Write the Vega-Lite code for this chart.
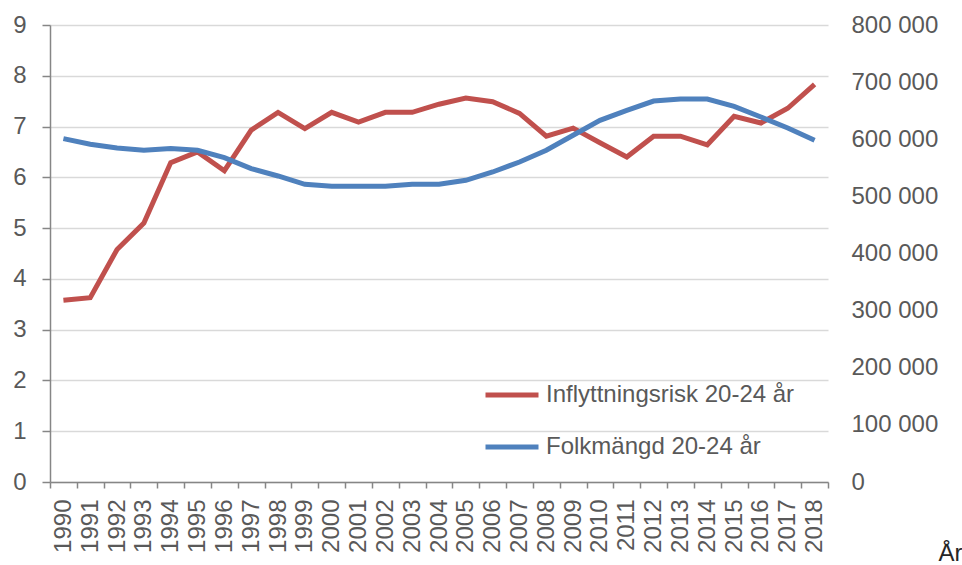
{
  "$schema": "https://vega.github.io/schema/vega-lite/v6.json",
  "width": 778,
  "height": 457,
  "autosize": {"type": "none"},
  "padding": {"left": 50, "top": 25, "right": 134, "bottom": 83},
  "background": "white",
  "config": {
    "view": {"stroke": null},
    "font": "Liberation Sans",
    "locale": {"number": {"decimal": ",", "thousands": " ", "grouping": [3], "currency": ["", " kr"]}}
  },
  "data": {
    "values": [
      {"year": "1990", "risk": 3.58, "folk": 601100},
      {"year": "1991", "risk": 3.63, "folk": 591200},
      {"year": "1992", "risk": 4.58, "folk": 584700},
      {"year": "1993", "risk": 5.10, "folk": 580700},
      {"year": "1994", "risk": 6.29, "folk": 583600},
      {"year": "1995", "risk": 6.50, "folk": 580700},
      {"year": "1996", "risk": 6.13, "folk": 567900},
      {"year": "1997", "risk": 6.93, "folk": 548700},
      {"year": "1998", "risk": 7.28, "folk": 535700},
      {"year": "1999", "risk": 6.96, "folk": 521200},
      {"year": "2000", "risk": 7.28, "folk": 517700},
      {"year": "2001", "risk": 7.09, "folk": 517700},
      {"year": "2002", "risk": 7.28, "folk": 517700},
      {"year": "2003", "risk": 7.28, "folk": 521200},
      {"year": "2004", "risk": 7.44, "folk": 521200},
      {"year": "2005", "risk": 7.56, "folk": 528200},
      {"year": "2006", "risk": 7.49, "folk": 542700},
      {"year": "2007", "risk": 7.26, "folk": 560200},
      {"year": "2008", "risk": 6.81, "folk": 580700},
      {"year": "2009", "risk": 6.97, "folk": 606900},
      {"year": "2010", "risk": 6.68, "folk": 633100},
      {"year": "2011", "risk": 6.40, "folk": 650600},
      {"year": "2012", "risk": 6.81, "folk": 666900},
      {"year": "2013", "risk": 6.81, "folk": 670400},
      {"year": "2014", "risk": 6.64, "folk": 670400},
      {"year": "2015", "risk": 7.20, "folk": 657600},
      {"year": "2016", "risk": 7.07, "folk": 638900},
      {"year": "2017", "risk": 7.36, "folk": 619700},
      {"year": "2018", "risk": 7.83, "folk": 598200}
    ]
  },
  "encoding": {
    "x": {
      "field": "year",
      "type": "ordinal",
      "bandPosition": 0.5,
      "scale": {"type": "band", "paddingInner": 0, "paddingOuter": 0},
      "axis": {
        "title": "År",
        "titleX": 900,
        "titleY": 78,
        "titleAlign": "center",
        "titleBaseline": "alphabetic",
        "titleFontSize": 24,
        "titleFontWeight": "normal",
        "titleColor": "#262626",
        "labelAngle": 270,
        "labelAlign": "right",
        "labelBaseline": "middle",
        "labelFontSize": 24,
        "labelColor": "#595959",
        "labelPadding": 11,
        "labelOverlap": false,
        "tickBand": "extent",
        "tickSize": 6,
        "tickColor": "#868686",
        "tickWidth": 1.5,
        "domainColor": "#868686",
        "domainWidth": 1.5,
        "grid": false
      }
    }
  },
  "layer": [
    {
      "mark": {"type": "line", "strokeWidth": 5},
      "encoding": {
        "y": {
          "field": "risk",
          "type": "quantitative",
          "scale": {"domain": [0, 9], "nice": false},
          "axis": {
            "title": null,
            "orient": "left",
            "values": [0, 1, 2, 3, 4, 5, 6, 7, 8, 9],
            "labelFontSize": 24,
            "labelColor": "#595959",
            "labelPadding": 16,
            "tickSize": 8,
            "tickColor": "#868686",
            "tickWidth": 1.5,
            "domainColor": "#868686",
            "domainWidth": 1.5,
            "grid": true,
            "gridColor": "#D9D9D9",
            "gridWidth": 1.5
          }
        },
        "color": {
          "datum": "Inflyttningsrisk 20-24 år",
          "type": "nominal",
          "scale": {
            "domain": ["Inflyttningsrisk 20-24 år", "Folkmängd 20-24 år"],
            "range": ["#C0504D", "#4F81BD"]
          },
          "legend": {
            "title": null,
            "orient": "none",
            "legendX": 433,
            "legendY": 341,
            "symbolType": "stroke",
            "symbolSize": 2809,
            "symbolStrokeWidth": 5,
            "labelFontSize": 24,
            "labelColor": "#595959",
            "labelOffset": 5,
            "labelLimit": 0,
            "rowPadding": 11,
            "labelFont": "Liberation Sans"
          }
        }
      }
    },
    {
      "mark": {"type": "line", "strokeWidth": 5},
      "encoding": {
        "y": {
          "field": "folk",
          "type": "quantitative",
          "scale": {"domain": [0, 800000], "nice": false},
          "axis": {
            "title": null,
            "orient": "right",
            "values": [0, 100000, 200000, 300000, 400000, 500000, 600000, 700000, 800000],
            "format": ",d",
            "labelFontSize": 24,
            "labelColor": "#595959",
            "labelPadding": 23,
            "ticks": false,
            "domain": false,
            "grid": false
          }
        },
        "color": {"datum": "Folkmängd 20-24 år", "type": "nominal"}
      }
    }
  ],
  "resolve": {"scale": {"y": "independent"}}
}
